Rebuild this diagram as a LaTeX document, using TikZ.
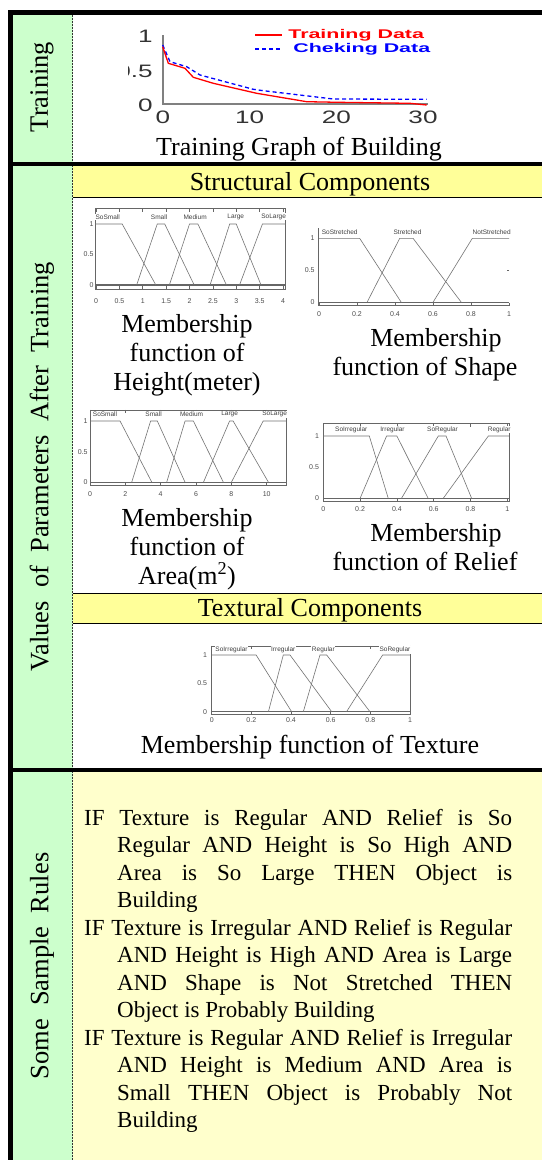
\documentclass[tikz,border=0pt]{standalone}
\usepackage{fontspec}
\setmainfont{Liberation Serif}
\newfontfamily\arialf{Liberation Sans}
\definecolor{colgreen}{HTML}{CCFFCC}
\definecolor{colband}{HTML}{FFFF99}
\definecolor{colrules}{HTML}{FFFFCC}
\begin{document}
\begin{tikzpicture}[x=1pt,y=-1pt,
  capt/.style={font=\fontsize{26}{26}\selectfont, inner sep=0, anchor=base},
  ruleline/.style={font=\fontsize{23}{23}\selectfont, inner sep=0, anchor=base west},
  side/.style={font=\fontsize{26.5}{26.5}\selectfont, rotate=90, inner sep=0},
  mfl/.style={draw=black!55, line width=0.6pt},
  mfframe/.style={draw=black!60, line width=0.7pt},
  mfbase/.style={draw=black!60, line width=1.3pt},
  mftk/.style={font=\arialf\fontsize{7}{7}\selectfont, text=black!70, inner sep=0.5pt},
  mfname/.style={font=\arialf\fontsize{6.5}{6.5}\selectfont, text=black!75, fill=white, inner sep=0.6pt},
  gtk/.style={font=\arialf\fontsize{18}{18}\selectfont, xscale=1.45, text=black!80, inner sep=0},
  leg/.style={font=\arialf\bfseries\fontsize{12.6}{12.6}\selectfont, xscale=1.7, inner sep=0, anchor=west}]
\useasboundingbox (0,0) rectangle (542,1160);
\fill[white] (0,0) rectangle (542,1160);
% backgrounds
\fill[colgreen] (13,15) rectangle (72.5,1160);
\fill[colband] (73,166) rectangle (542,197);
\draw[line width=0.8pt] (73,197) -- (542,197);
\fill[colband] (73,593) rectangle (542,623);
\draw[line width=0.8pt] (73,593) -- (542,593);
\draw[line width=0.8pt] (73,623) -- (542,623);
\fill[colrules] (73,772) rectangle (542,1160);
\draw[dash pattern=on 2pt off 1pt, line width=1.2pt, black!80] (72.5,15) -- (72.5,1160);
% thick frame lines
\fill[black] (8,9.5) rectangle (542,15);
\fill[black] (8,9.5) rectangle (13,1160);
\fill[black] (8,162) rectangle (542,166);
\fill[black] (8,768) rectangle (542,772);

% side labels
\node[side] (sTrain) at (42,87) {Training};
\node[side] (sValues) at (42,467) {Values\ \ of\ \ Parameters\ \ After\ \ Training};
\node[side] (sRules) at (42,966) {Some\ \ Sample\ \ Rules};

% ---------- training graph ----------
\draw[black!50, line width=2.7pt] (163,35) -- (163,104) -- (428,104);
\draw[blue, line width=1.3pt, dash pattern=on 4pt off 3pt] (162.7,45) -- (170,61.7) -- (186.7,66.7) -- (200,75) -- (253.3,89.3) -- (263.3,90.7) -- (333.3,99) -- (426.7,99.3);
\draw[red, line width=1.3pt] (162.7,46.7) -- (168.3,63.3) -- (185,68.3) -- (193.3,77.3) -- (213.3,83.3) -- (256.7,93.3) -- (306.7,101.7) -- (338.3,102.3) -- (410,103.3) -- (426.7,105);
\draw[red, line width=1.2pt] (255,35) -- (282,35);
\draw[blue, line width=1.2pt, dash pattern=on 4pt off 3pt] (255,49) -- (282,49);
\node[leg, text=red] (lgTrain) at (288,35) {Training Data};
\node[leg, text=blue] (lgCheck) at (293,49) {Cheking Data};
\node[gtk, anchor=east] (gy1) at (153,36) {1};
\begin{scope}
\clip (128,55) rectangle (160,90);
\node[gtk, anchor=east] (gy05) at (153,71) {0.5};
\end{scope}
\node[gtk, anchor=east] (gy0) at (153,105) {0};
\node[gtk] (gx0) at (163,117) {0};
\node[gtk] (gx10) at (249.7,117) {10};
\node[gtk] (gx20) at (336.3,117) {20};
\node[gtk] (gx30) at (423,117) {30};
\node[capt] (capTrain) at (299,155) {Training Graph of Building};

% ---------- headings ----------
\node[capt] (hStruct) at (310,190) {Structural Components};
\node[capt] (hText) at (310,616) {Textural Components};

% ---------- Height plot ----------
\begin{scope}[shift={(96,285)}, x=46.75pt, y=61pt]
 \draw[mfframe] (-0.02,-0.066) rectangle (4.06,1.25);
 \foreach \v [count=\i] in {0,0.5,1,1.5,2,2.5,3,3.5,4} {
   \draw[mfframe] (\v,-0.066) -- ++(0,0.05);
   \draw[mfframe] (\v,1.25) -- ++(0,-0.05);
   \node[mftk] (hx\i) at (\v,-0.27) {\v};}
 \node[mftk, anchor=east] (hy1) at (-0.04,1) {1};
 \node[mftk, anchor=east] (hy2) at (-0.04,0.5) {0.5};
 \node[mftk, anchor=east] (hy3) at (-0.04,0) {0};
 \draw[mfbase] (-0.02,0) -- (4.06,0);
 \draw[mfl] (-0.02,1) -- (0.56,1) -- (1.28,0);
 \draw[mfl] (0.87,0) -- (1.31,1) -- (1.47,1) -- (2.1,0);
 \draw[mfl] (1.57,0) -- (2.0,1) -- (2.18,1) -- (2.79,0);
 \draw[mfl] (2.44,0) -- (2.86,1) -- (3.0,1) -- (3.53,0);
 \draw[mfl] (3.07,0) -- (3.56,1) -- (4.06,1);
 \node[mfname] (hn1) at (0.25,1.12) {SoSmall};
 \node[mfname] (hn2) at (1.35,1.12) {Small};
 \node[mfname] (hn3) at (2.12,1.12) {Medium};
 \node[mfname] (hn4) at (2.99,1.12) {Large};
 \node[mfname] (hn5) at (3.8,1.12) {SoLarge};
\end{scope}
\node[capt] (cH1) at (187,332) {Membership};
\node[capt] (cH2) at (187,361) {function of};
\node[capt] (cH3) at (187,390) {Height(meter)};

% ---------- Shape plot ----------
\begin{scope}[shift={(319,302.3)}, x=190pt, y=64pt]
 \draw[mfframe] (-0.005,1.16) -- (-0.005,-0.053) -- (1,-0.053);
 \draw[mfframe] (1,0.5) -- ++(-0.01,0);
 \foreach \v [count=\i] in {0,0.2,0.4,0.6,0.8,1} {
   \draw[mfframe] (\v,-0.053) -- ++(0,0.04);
   \node[mftk] (sx\i) at (\v,-0.18) {\v};}
 \node[mftk, anchor=east] (sy1) at (-0.02,1) {1};
 \node[mftk, anchor=east] (sy2) at (-0.02,0.5) {0.5};
 \node[mftk, anchor=east] (sy3) at (-0.02,0) {0};
 \draw[mfbase] (-0.005,0) -- (1,0);
 \draw[mfl] (0,1) -- (0.214,1) -- (0.433,0);
 \draw[mfl] (0.253,0) -- (0.425,1) -- (0.495,1) -- (0.749,0);
 \draw[mfl] (0.6,0) -- (0.807,1) -- (1,1);
 \node[mfname] (sn1) at (0.109,1.10) {SoStretched};
 \node[mfname] (sn2) at (0.466,1.10) {Stretched};
 \node[mfname] (sn3) at (0.909,1.10) {NotStretched};
\end{scope}
\node[capt] (cS1) at (436,346) {Membership};
\node[capt] (cS2) at (425,375) {function of Shape};

% ---------- Area plot ----------
\begin{scope}[shift={(90,482.3)}, x=17.67pt, y=61.3pt]
 \draw[mfframe] (0,-0.044) rectangle (11.09,1.18);
 \foreach \v [count=\i] in {0,2,4,6,8,10} {
   \draw[mfframe] (\v,-0.044) -- ++(0,0.05);
   \draw[mfframe] (\v,1.18) -- ++(0,-0.05);
   \node[mftk] (ax\i) at (\v,-0.19) {\v};}
 \node[mftk, anchor=east] (ay1) at (-0.1,1) {1};
 \node[mftk, anchor=east] (ay2) at (-0.1,0.5) {0.5};
 \node[mftk, anchor=east] (ay3) at (-0.1,0) {0};
 \draw[mfbase] (0,0) -- (11.09,0);
 \draw[mfl] (0,1) -- (1.7,1) -- (3.5,0);
 \draw[mfl] (2.36,0) -- (3.43,1) -- (3.81,1) -- (5.38,0);
 \draw[mfl] (4.34,0) -- (5.38,1) -- (5.85,1) -- (7.55,0);
 \draw[mfl] (6.42,0) -- (7.9,1) -- (8.1,1) -- (10.1,0);
 \draw[mfl] (8.0,0) -- (9.8,1) -- (11.09,1);
 \node[mfname] (an1) at (0.85,1.11) {SoSmall};
 \node[mfname] (an2) at (3.6,1.11) {Small};
 \node[mfname] (an3) at (5.75,1.11) {Medium};
 \node[mfname] (an4) at (7.9,1.11) {Large};
 \node[mfname] (an5) at (10.45,1.11) {SoLarge};
\end{scope}
\node[capt] (cA1) at (187,526) {Membership};
\node[capt] (cA2) at (187,555) {function of};
\node[capt] (cA3) at (187,584) {Area(m\textsuperscript{2})};

% ---------- Relief plot ----------
\begin{scope}[shift={(323.3,498.3)}, x=184pt, y=62.3pt]
 \draw[mfframe] (0,-0.055) rectangle (1.01,1.2);
 \foreach \v [count=\i] in {0,0.2,0.4,0.6,0.8,1} {
   \draw[mfframe] (\v,-0.055) -- ++(0,0.05);
   \draw[mfframe] (\v,1.2) -- ++(0,-0.05);
   \node[mftk] (rx\i) at (\v,-0.18) {\v};}
 \node[mftk, anchor=east] (ry1) at (-0.02,1) {1};
 \node[mftk, anchor=east] (ry2) at (-0.02,0.5) {0.5};
 \node[mftk, anchor=east] (ry3) at (-0.02,0) {0};
 \draw[mfbase] (0,0) -- (1.01,0);
 \draw[mfl] (0,1) -- (0.25,1) -- (0.353,0);
 \draw[mfl] (0.2,0) -- (0.344,1) -- (0.4,1) -- (0.57,0);
 \draw[mfl] (0.425,0) -- (0.625,1) -- (0.667,1) -- (0.806,0);
 \draw[mfl] (0.652,0) -- (0.897,1) -- (1.01,1);
 \node[mfname] (rn1) at (0.152,1.10) {SoIrregular};
 \node[mfname] (rn2) at (0.376,1.10) {Irregular};
 \node[mfname] (rn3) at (0.648,1.10) {SoRegular};
 \node[mfname] (rn4) at (0.956,1.10) {Regular};
\end{scope}
\node[capt] (cR1) at (436,541) {Membership};
\node[capt] (cR2) at (425,570) {function of Relief};

% ---------- Texture plot ----------
\begin{scope}[shift={(211.7,711.7)}, x=198.3pt, y=56.7pt]
 \draw[mfframe] (0,-0.04) rectangle (1,1.16);
 \foreach \v [count=\i] in {0,0.2,0.4,0.6,0.8,1} {
   \draw[mfframe] (\v,-0.04) -- ++(0,0.05);
   \draw[mfframe] (\v,1.16) -- ++(0,-0.05);
   \node[mftk] (tx\i) at (\v,-0.15) {\v};}
 \node[mftk, anchor=east] (ty1) at (-0.02,1) {1};
 \node[mftk, anchor=east] (ty2) at (-0.02,0.5) {0.5};
 \node[mftk, anchor=east] (ty3) at (-0.02,0) {0};
 \draw[mfbase] (0,0) -- (1,0);
 \draw[mfl] (0,1) -- (0.224,1) -- (0.403,0);
 \draw[mfl] (0.286,0) -- (0.361,1) -- (0.395,1) -- (0.605,0);
 \draw[mfl] (0.462,0) -- (0.546,1) -- (0.58,1) -- (0.798,0);
 \draw[mfl] (0.68,0) -- (0.862,1) -- (1,1);
 \node[mfname] (tn1) at (0.1,1.09) {SoIrregular};
 \node[mfname] (tn2) at (0.361,1.09) {Irregular};
 \node[mfname] (tn3) at (0.563,1.09) {Regular};
 \node[mfname] (tn4) at (0.924,1.09) {SoRegular};
\end{scope}
\node[capt] (cT1) at (310,753) {Membership function of Texture};

% ---------- rules ----------
\node[ruleline] (r1) at (84,825) {\makebox[428pt][s]{IF Texture is Regular AND Relief is So}};
\node[ruleline] (r2) at (117,852.5) {\makebox[395pt][s]{Regular AND Height is So High AND}};
\node[ruleline] (r3) at (117,880) {\makebox[395pt][s]{Area is So Large THEN Object is}};
\node[ruleline] (r4) at (117,907.5) {Building};
\node[ruleline] (r5) at (84,935) {\makebox[428pt][s]{IF Texture is Irregular AND Relief is Regular}};
\node[ruleline] (r6) at (117,962.5) {\makebox[395pt][s]{AND Height is High AND Area is Large}};
\node[ruleline] (r7) at (117,990) {\makebox[395pt][s]{AND Shape is Not Stretched THEN}};
\node[ruleline] (r8) at (117,1017.5) {Object is Probably Building};
\node[ruleline] (r9) at (84,1045) {\makebox[428pt][s]{IF Texture is Regular AND Relief is Irregular}};
\node[ruleline] (r10) at (117,1072.5) {\makebox[395pt][s]{AND Height is Medium AND Area is}};
\node[ruleline] (r11) at (117,1100) {\makebox[395pt][s]{Small THEN Object is Probably Not}};
\node[ruleline] (r12) at (117,1127.5) {Building};
\end{tikzpicture}
\end{document}
